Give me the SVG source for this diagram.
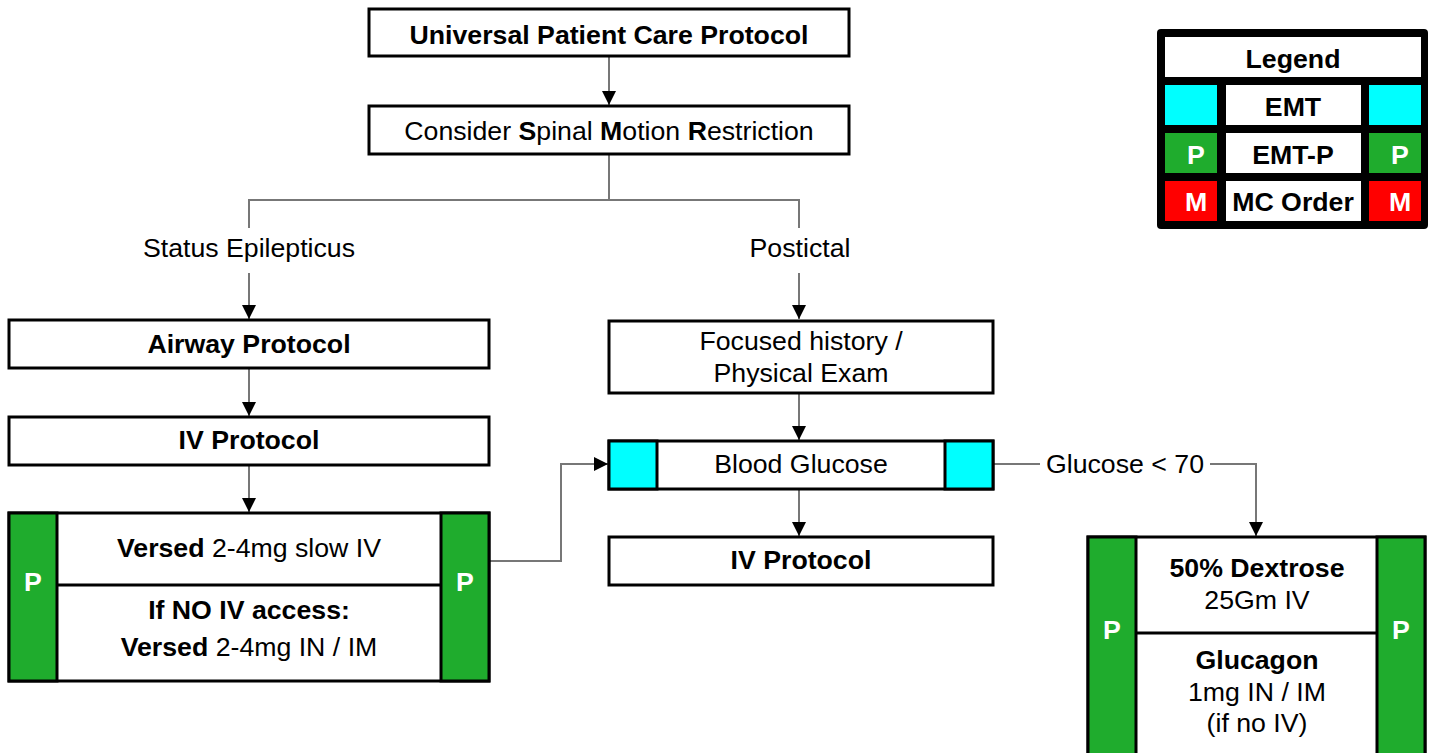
<svg xmlns="http://www.w3.org/2000/svg" width="1430" height="753" viewBox="0 0 1430 753">
<defs>
<marker id="arr" viewBox="0 0 14 14" refX="14" refY="7" markerWidth="14" markerHeight="14" markerUnits="userSpaceOnUse" orient="auto">
<path d="M0,0 L14,7 L0,14 Z" fill="#000"/>
</marker>
</defs>
<style>
text{font-family:"Liberation Sans",Arial,sans-serif;font-size:26.7px;fill:#000;text-anchor:middle}
.b{font-weight:bold}
.w{fill:#fff;font-weight:bold}
.box{fill:#fff;stroke:#000;stroke-width:3}
.g{fill:#1fac2d;stroke:#000;stroke-width:3}
.c{fill:#00ffff;stroke:#000;stroke-width:3}
.r{fill:#ff0000}
.con{fill:none;stroke:#777;stroke-width:2}
.lg{fill:#fff}
</style>
<rect width="1430" height="753" fill="#fff"/>
<g id="connectors">
<path class="con" d="M609,56 V105" marker-end="url(#arr)"/>
<path class="con" d="M609,154 V200 M249,228 V200 H799 V228"/>
<path class="con" d="M249,273 V319" marker-end="url(#arr)"/>
<path class="con" d="M799,273 V319" marker-end="url(#arr)"/>
<path class="con" d="M249,368 V416" marker-end="url(#arr)"/>
<path class="con" d="M249,465 V512" marker-end="url(#arr)"/>
<path class="con" d="M799,393 V440" marker-end="url(#arr)"/>
<path class="con" d="M799,489 V536" marker-end="url(#arr)"/>
<path class="con" d="M490,561 H561 V464 H608" marker-end="url(#arr)"/>
<path class="con" d="M994,464 H1040 M1210,464 H1256 V536" marker-end="url(#arr)"/>
<text x="249" y="256.5">Status Epilepticus</text>
<text x="800" y="256.5">Postictal</text>
<text x="1125" y="472.5">Glucose &lt; 70</text>
</g>
<g id="n-universal">
<rect class="box" x="369" y="9" width="480" height="47"/>
<text class="b" x="609" y="43.5">Universal Patient Care Protocol</text>
</g>
<g id="n-smr">
<rect class="box" x="369" y="106" width="480" height="48"/>
<text x="609" y="139.5">Consider <tspan class="b">S</tspan>pinal <tspan class="b">M</tspan>otion <tspan class="b">R</tspan>estriction</text>
</g>
<g id="n-airway">
<rect class="box" x="9" y="320" width="480" height="48"/>
<text class="b" x="249" y="352.5">Airway Protocol</text>
</g>
<g id="n-iv1">
<rect class="box" x="9" y="417" width="480" height="48"/>
<text class="b" x="249" y="448.5">IV Protocol</text>
</g>
<g id="n-versed">
<rect class="box" x="9" y="513" width="480" height="168"/>
<line x1="57" y1="585" x2="441" y2="585" stroke="#000" stroke-width="3"/>
<rect class="g" x="9" y="513" width="48" height="168"/>
<rect class="g" x="441" y="513" width="48" height="168"/>
<text class="w" x="33" y="590.5">P</text>
<text class="w" x="465" y="590.5">P</text>
<text x="249" y="556.5"><tspan class="b">Versed</tspan> 2-4mg slow IV</text>
<text class="b" x="249" y="618.5">If NO IV access:</text>
<text x="249" y="655.5"><tspan class="b">Versed</tspan> 2-4mg IN / IM</text>
</g>
<g id="n-focused">
<rect class="box" x="609" y="321" width="384" height="72"/>
<text x="801" y="349.5">Focused history /</text>
<text x="801" y="381.5">Physical Exam</text>
</g>
<g id="n-glucose">
<rect class="box" x="609" y="441" width="384" height="48"/>
<rect class="c" x="609" y="441" width="48" height="48"/>
<rect class="c" x="945" y="441" width="48" height="48"/>
<text x="801" y="472.5">Blood Glucose</text>
</g>
<g id="n-iv2">
<rect class="box" x="609" y="537" width="384" height="48"/>
<text class="b" x="801" y="568.5">IV Protocol</text>
</g>
<g id="n-dextrose">
<rect class="box" x="1088" y="537" width="337" height="220"/>
<line x1="1136" y1="633" x2="1377" y2="633" stroke="#000" stroke-width="3"/>
<rect class="g" x="1088" y="537" width="48" height="220"/>
<rect class="g" x="1377" y="537" width="48" height="220"/>
<text class="w" x="1112" y="638.5">P</text>
<text class="w" x="1401" y="638.5">P</text>
<text class="b" x="1257" y="576.5">50% Dextrose</text>
<text x="1257" y="608.5">25Gm IV</text>
<text class="b" x="1257" y="668.5">Glucagon</text>
<text x="1257" y="700.5">1mg IN / IM</text>
<text x="1257" y="731.5">(if no IV)</text>
</g>
<g id="legend">
<rect x="1157" y="29" width="271" height="200" rx="4" fill="#000"/>
<rect class="lg" x="1165" y="37" width="256" height="40"/>
<text class="b" x="1293" y="67.5">Legend</text>
<rect fill="#00ffff" x="1165" y="85" width="52" height="40"/>
<rect class="lg" x="1226" y="85" width="135" height="40"/>
<rect fill="#00ffff" x="1369" y="85" width="52" height="40"/>
<text class="b" x="1293" y="115.5">EMT</text>
<rect fill="#1fac2d" x="1165" y="133" width="52" height="40"/>
<rect class="lg" x="1226" y="133" width="135" height="40"/>
<rect fill="#1fac2d" x="1369" y="133" width="52" height="40"/>
<text class="w" x="1196" y="163.5">P</text>
<text class="b" x="1293" y="163.5">EMT-P</text>
<text class="w" x="1400" y="163.5">P</text>
<rect class="r" x="1165" y="181" width="52" height="40"/>
<rect class="lg" x="1226" y="181" width="135" height="40"/>
<rect class="r" x="1369" y="181" width="52" height="40"/>
<text class="w" x="1196" y="210.5">M</text>
<text class="b" x="1293" y="210.5">MC Order</text>
<text class="w" x="1400" y="210.5">M</text>
</g>
</svg>
